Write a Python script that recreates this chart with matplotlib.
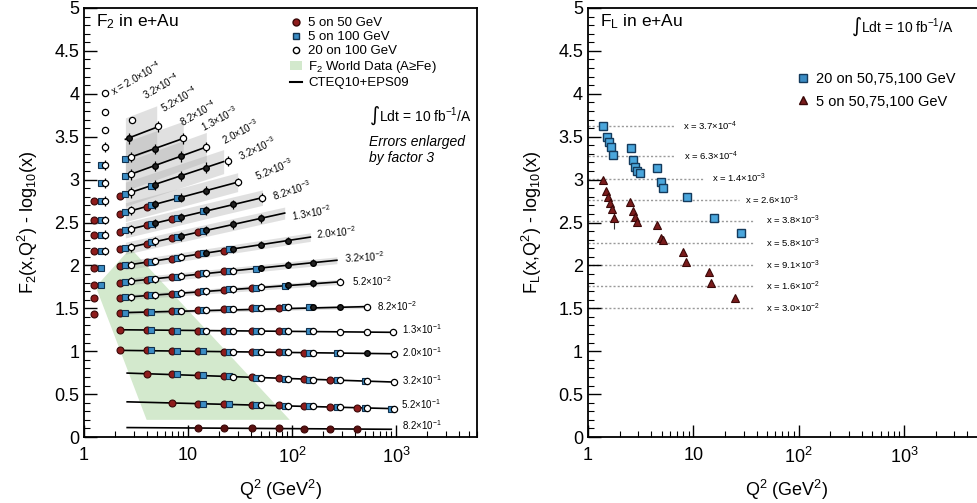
import numpy as np
import matplotlib
matplotlib.use('Agg')
import matplotlib.pyplot as plt
from matplotlib.lines import Line2D
from matplotlib.patches import Patch, Polygon
from matplotlib.ticker import (MultipleLocator, FixedLocator, FixedFormatter,
                               LogLocator, NullFormatter, FuncFormatter)

plt.rcParams['font.family'] = ['Liberation Sans', 'DejaVu Sans']
plt.rcParams['mathtext.default'] = 'regular'

RED = '#8e1c1c'
BLUE = '#3b8cc4'
GREEN = '#d3e9cd'

# ---- left panel: F2, one entry per x bin (top to bottom) ----
bin_labels = ['x = 2.0×10$^{-4}$', '3.2×10$^{-4}$', '5.2×10$^{-4}$', '8.2×10$^{-4}$',
              '1.3×10$^{-3}$', '2.0×10$^{-3}$', '3.2×10$^{-3}$', '5.2×10$^{-3}$',
              '8.2×10$^{-3}$', '1.3×10$^{-2}$', '2.0×10$^{-2}$', '3.2×10$^{-2}$',
              '5.2×10$^{-2}$', '8.2×10$^{-2}$', '1.3×10$^{-1}$', '2.0×10$^{-1}$',
              '3.2×10$^{-1}$', '5.2×10$^{-1}$', '8.2×10$^{-1}$']
label_q = [1.85, 3.7, 5.6, 8.4, 13.6, 21.5, 31, 44, 65, 100, 170, 320,
           380, 660, 1150, 1150, 1150, 1120, 1130]
label_y = [4.02, 3.97, 3.82, 3.66, 3.60, 3.45, 3.27, 3.04, 2.80, 2.57, 2.36, 2.08,
           1.82, 1.53, 1.26, 0.99, 0.66, 0.38, 0.14]
label_rot = [30, 30, 30, 30, 28, 28, 25, 22, 18, 10, 5, 3, 0, 0, 0, 0, 0, 0, 0]

# CTEQ10+EPS09 curves (Q2 start/end, value start/end)
curve_q = [None, None, None, (2.5, 5.0), (2.5, 9.0), (2.5, 15), (2.5, 22), (2.5, 30),
           (2.5, 52), (2.5, 85), (2.5, 150), (2.5, 270), (2.5, 300), (2.5, 540),
           (2.2, 930), (2.2, 980), (2.6, 980), (2.6, 980), (2.6, 900)]
curve_y = [None, None, None, (3.47, 3.61), (3.24, 3.48), (3.04, 3.38), (2.83, 3.21),
           (2.62, 2.97), (2.41, 2.79), (2.20, 2.61), (2.00, 2.33), (1.81, 2.06),
           (1.63, 1.81), (1.45, 1.52), (1.25, 1.22), (1.01, 0.97), (0.745, 0.64),
           (0.41, 0.33), (0.11, 0.09)]
band_half = [0, 0, 0, 0.25, 0.2, 0.17, 0.14, 0.11, 0.09, 0.07, 0.05, 0.04, 0.03,
             0.02, 0, 0, 0, 0, 0]
err_bin = [0.03, 0.03, 0.03, 0.06, 0.06, 0.06, 0.06, 0.05, 0.05, 0.05, 0.04, 0.04,
           0.04, 0.03, 0.01, 0.01, 0.01, 0.01, 0.01]

# 5 on 50 GeV
red_q = [[], [], [], [], [], [], [1.25, 2.2], [1.25, 2.2, 4.0], [1.25, 2.2, 4.0, 7.0],
         [1.25, 2.2, 4.0, 7.0, 12.5], [1.25, 2.2, 4.0, 7.0, 12.5, 22],
         [1.25, 2.2, 4.0, 7.0, 12.5, 22], [1.25, 2.2, 4.0, 7.0, 12.5, 22, 41],
         [1.25, 2.2, 4.0, 7.0, 12.5, 22, 41, 75], [2.2, 4.0, 7.0, 12.5, 22, 41, 75],
         [2.2, 4.0, 7.0, 12.5, 22, 41, 75, 130], [4.0, 7.0, 12.5, 22, 41, 75, 130, 230],
         [7.0, 12.5, 22, 41, 75, 130, 230, 420], [12.5, 22, 41, 75, 130, 230, 420]]
red_y = [[], [], [], [], [], [], [2.75, 2.81], [2.53, 2.60, 2.68], [2.36, 2.39, 2.47, 2.54],
         [2.17, 2.19, 2.25, 2.32, 2.39], [1.97, 1.99, 2.04, 2.08, 2.13, 2.17],
         [1.77, 1.80, 1.83, 1.87, 1.90, 1.93], [1.62, 1.62, 1.65, 1.67, 1.69, 1.71, 1.74],
         [1.43, 1.45, 1.46, 1.47, 1.48, 1.49, 1.50, 1.50],
         [1.25, 1.25, 1.24, 1.24, 1.24, 1.23, 1.23],
         [1.01, 1.01, 1.0, 1.0, 0.99, 0.99, 0.99, 0.98],
         [0.74, 0.73, 0.72, 0.71, 0.70, 0.69, 0.68, 0.67],
         [0.40, 0.39, 0.38, 0.37, 0.37, 0.36, 0.35, 0.34],
         [0.105, 0.10, 0.10, 0.10, 0.095, 0.095, 0.09]]

# 5 on 100 GeV
blue_q = [[], [], [], [], [1.45, 2.5], [1.45, 2.5], [1.45, 2.5, 4.4], [1.45, 2.5, 4.4, 7.8],
          [1.45, 2.5, 4.4, 7.8, 14], [1.45, 2.5, 4.4, 7.8, 14], [1.45, 2.5, 4.4, 7.8, 14, 25],
          [1.45, 2.5, 4.4, 7.8, 14, 25, 45], [2.5, 4.4, 7.8, 14, 25, 45, 85],
          [2.5, 4.4, 7.8, 14, 25, 45, 85, 145], [4.4, 7.8, 14, 25, 45, 85, 145],
          [4.4, 7.8, 14, 25, 45, 85, 145, 270], [7.8, 14, 25, 45, 85, 145, 270, 500],
          [14, 25, 45, 85, 145, 270, 500, 900], []]
blue_y = [[], [], [], [], [3.17, 3.24], [2.96, 3.04], [2.75, 2.83, 2.93],
          [2.53, 2.62, 2.70, 2.78], [2.36, 2.41, 2.48, 2.55, 2.63],
          [2.17, 2.20, 2.27, 2.33, 2.40], [1.97, 2.00, 2.04, 2.09, 2.14, 2.19],
          [1.77, 1.81, 1.84, 1.87, 1.91, 1.94, 1.96], [1.63, 1.65, 1.67, 1.70, 1.72, 1.74, 1.76],
          [1.45, 1.46, 1.47, 1.48, 1.49, 1.50, 1.51, 1.51],
          [1.25, 1.24, 1.24, 1.24, 1.23, 1.23, 1.23],
          [1.01, 1.0, 1.0, 0.99, 0.99, 0.99, 0.98, 0.98],
          [0.73, 0.72, 0.71, 0.69, 0.68, 0.67, 0.66, 0.65],
          [0.39, 0.38, 0.37, 0.36, 0.36, 0.35, 0.34, 0.33], []]

# 20 on 100 GeV (open markers)
open_q = [[1.6], [1.6], [1.6, 2.9], [1.6, 5.2], [1.6, 2.8, 9.0], [1.6, 2.8, 15],
          [1.6, 2.8, 24], [1.6, 2.8, 30], [1.6, 2.8, 52], [1.6, 2.8, 4.8], [2.8, 4.8, 8.5],
          [2.8, 4.8, 8.5, 15, 27], [2.8, 4.8, 8.5, 15, 27, 50, 290],
          [8.5, 15, 27, 50, 92, 530], [15, 27, 50, 92, 160, 290, 530, 930],
          [27, 50, 92, 160, 290, 950], [27, 50, 92, 160, 290, 530, 950],
          [50, 92, 160, 290, 530, 950], []]
open_y = [[4.01], [3.79], [3.58, 3.69], [3.38, 3.62], [3.17, 3.26, 3.48], [2.96, 3.06, 3.38],
          [2.75, 2.85, 3.22], [2.53, 2.64, 2.97], [2.36, 2.42, 2.79], [2.17, 2.21, 2.28],
          [2.01, 2.05, 2.10], [1.82, 1.84, 1.88, 1.91, 1.94],
          [1.63, 1.65, 1.68, 1.70, 1.72, 1.75, 1.81], [1.47, 1.48, 1.49, 1.50, 1.51, 1.52],
          [1.24, 1.24, 1.23, 1.23, 1.23, 1.22, 1.22, 1.22],
          [0.99, 0.99, 0.99, 0.98, 0.98, 0.97], [0.70, 0.69, 0.68, 0.67, 0.66, 0.65, 0.64],
          [0.37, 0.36, 0.36, 0.35, 0.34, 0.33], []]

# 20 on 100 GeV (points drawn dark, enlarged errors)
dark_q = [[], [], [], [2.7], [4.8], [4.8, 8.5], [4.8, 8.5, 15], [4.8, 8.5, 15],
          [4.8, 8.5, 15, 27], [8.5, 15, 27, 50], [15, 27, 50, 92], [50, 92, 160],
          [92, 160], [160, 290], [], [530], [], [], []]
dark_y = [[], [], [], [3.48], [3.36], [3.16, 3.27], [2.94, 3.04, 3.14], [2.71, 2.79, 2.87],
          [2.49, 2.56, 2.64, 2.71], [2.34, 2.41, 2.48, 2.55], [2.15, 2.19, 2.24, 2.29],
          [1.97, 2.01, 2.03], [1.77, 1.79], [1.51, 1.52], [], [0.975], [], [], []]

# F2 world data region (A >= Fe)
world_q = [1.3, 2.8, 95, 4.0]
world_y = [1.75, 2.2, 0.2, 0.2]

# ---- right panel: FL ----
fl_blue_q = [1.39, 1.51, 1.58, 1.65, 1.72, 2.54, 2.66, 2.78, 2.90, 3.09, 4.57, 4.88, 5.21,
             8.77, 15.8, 28.4]
fl_blue_y = [3.62, 3.50, 3.44, 3.38, 3.29, 3.37, 3.23, 3.15, 3.10, 3.08, 3.14, 2.97, 2.90,
             2.80, 2.55, 2.38]
fl_blue_err = [0.02, 0.02, 0.02, 0.03, 0.05, 0.02, 0.02, 0.03, 0.03, 0.05, 0.02, 0.03, 0.03,
               0.02, 0.02, 0.02]
fl_red_q = [1.39, 1.48, 1.54, 1.61, 1.68, 1.76, 2.49, 2.66, 2.78, 2.90, 4.57, 4.88, 5.21,
            8.03, 8.57, 14.1, 14.8, 24.9]
fl_red_y = [3.00, 2.87, 2.80, 2.73, 2.66, 2.55, 2.74, 2.63, 2.56, 2.51, 2.47, 2.32, 2.30,
            2.16, 2.04, 1.92, 1.79, 1.62]
fl_red_err = [0.02, 0.03, 0.03, 0.04, 0.05, 0.12, 0.02, 0.03, 0.04, 0.05, 0.02, 0.04, 0.04,
              0.02, 0.03, 0.03, 0.03, 0.02]
fl_labels = ['x = 3.7×10$^{-4}$', 'x = 6.3×10$^{-4}$', 'x = 1.4×10$^{-3}$',
             'x = 2.6×10$^{-3}$', 'x = 3.8×10$^{-3}$', 'x = 5.8×10$^{-3}$',
             'x = 9.1×10$^{-3}$', 'x = 1.6×10$^{-2}$', 'x = 3.0×10$^{-2}$']
fl_line_y = [3.62, 3.27, 3.01, 2.76, 2.52, 2.26, 2.00, 1.76, 1.50]
fl_line_end = [6.6, 6.6, 12.7, 27, 37, 37, 37, 37, 37]
fl_label_q = [7.9, 8.2, 15, 31, 49, 49, 49, 49, 49]


def style_axis(ax):
    ax.set_xscale('log')
    ax.set_xlim(1, 6000)
    ax.set_ylim(0, 5)
    ax.yaxis.set_major_locator(MultipleLocator(0.5))
    ax.yaxis.set_minor_locator(MultipleLocator(0.1))
    ax.yaxis.set_major_formatter(FuncFormatter(lambda v, p: '%g' % v))
    ax.xaxis.set_major_locator(FixedLocator([1, 10, 100, 1000]))
    ax.xaxis.set_major_formatter(FixedFormatter(['1', '10', '$10^2$', '$10^3$']))
    ax.xaxis.set_minor_locator(LogLocator(base=10, subs=np.arange(2, 10)))
    ax.xaxis.set_minor_formatter(NullFormatter())
    ax.tick_params(which='both', direction='in', top=False, right=False, labelsize=13)
    ax.tick_params(which='major', length=9, width=1)
    ax.tick_params(which='minor', length=4.5, width=0.8)
    ax.tick_params(axis='x', pad=7)
    for s in ax.spines.values():
        s.set_linewidth(1.3)
    ax.set_xlabel('Q$^2$ (GeV$^2$)', fontsize=13, labelpad=8)


fig = plt.figure(figsize=(9.78, 5.03), dpi=100)
ax1 = fig.add_axes([0.0859, 0.1312, 0.4018, 0.8529])
ax2 = fig.add_axes([0.6012, 0.1312, 0.407, 0.8529])
style_axis(ax1)
style_axis(ax2)

# left panel
ax1.add_patch(Polygon(list(zip(world_q, world_y)), closed=True, facecolor=GREEN,
                      edgecolor='none', zorder=0))
for b in range(len(bin_labels)):
    if curve_q[b] is not None:
        if band_half[b] > 0:
            ax1.fill_between(curve_q[b], [v - band_half[b] for v in curve_y[b]],
                             [v + band_half[b] for v in curve_y[b]],
                             color='#a8a8a8', alpha=0.35, lw=0, zorder=1)
        ax1.plot(curve_q[b], curve_y[b], color='k', lw=1.2, zorder=2)
    if red_q[b]:
        face = '#5a1010' if b == len(bin_labels) - 1 else RED
        ax1.plot(red_q[b], red_y[b], 'o', ms=5, mfc=face, mec='#3a0808', mew=0.8, zorder=4)
    if blue_q[b]:
        ax1.plot(blue_q[b], blue_y[b], 's', ms=4.8, mfc=BLUE, mec='#12324f', mew=0.8, zorder=5)
    if open_q[b]:
        ax1.errorbar(open_q[b], open_y[b], yerr=err_bin[b], fmt='o', ms=4.5, mfc='white',
                     mec='k', mew=0.9, ecolor='k', elinewidth=0.9, zorder=6)
    if dark_q[b]:
        ax1.errorbar(dark_q[b], dark_y[b], yerr=err_bin[b], fmt='o', ms=4, mfc='#222222',
                     mec='k', ecolor='k', elinewidth=0.9, zorder=6)
    ax1.text(label_q[b], label_y[b], bin_labels[b], fontsize=7, rotation=label_rot[b],
             rotation_mode='anchor', ha='left', va='center', zorder=7)

ax1.text(0.03, 0.968, 'F$_2$ in e+Au', transform=ax1.transAxes, fontsize=12.5,
         ha='left', va='center')
ax1.text(0.725, 0.748, '∫Ldt = 10 fb$^{-1}$/A', transform=ax1.transAxes, fontsize=10,
         ha='left', va='center')
ax1.text(0.725, 0.688, 'Errors enlarged', transform=ax1.transAxes, fontsize=10,
         style='italic', ha='left', va='center')
ax1.text(0.725, 0.650, 'by factor 3', transform=ax1.transAxes, fontsize=10,
         style='italic', ha='left', va='center')
handles = [
    Line2D([], [], marker='o', ls='none', ms=5, mfc=RED, mec='#3a0808'),
    Line2D([], [], marker='s', ls='none', ms=4.8, mfc=BLUE, mec='#12324f'),
    Line2D([], [], marker='o', ls='none', ms=4.5, mfc='white', mec='k'),
    Patch(facecolor=GREEN, edgecolor='none'),
    Line2D([], [], color='k', lw=1.5),
]
names = ['5 on 50 GeV', '5 on 100 GeV', '20 on 100 GeV', 'F$_2$ World Data (A≥Fe)',
         'CTEQ10+EPS09']
ax1.legend(handles, names, loc='upper left', bbox_to_anchor=(0.5, 1.0), frameon=False,
           fontsize=9.5, handlelength=0.9, handletextpad=0.5, labelspacing=0.15,
           borderpad=0.2, handleheight=0.6)
ax1.set_ylabel('F$_2$(x,Q$^2$) - log$_{10}$(x)', fontsize=13, labelpad=10)

# right panel
for yv, qe, lq, lab in zip(fl_line_y, fl_line_end, fl_label_q, fl_labels):
    ax2.plot([1, qe], [yv, yv], ls=(0, (1.5, 1.5)), color='#9a9a9a', lw=1, zorder=1)
    ax2.text(lq, yv, lab, fontsize=6.8, ha='left', va='center')
ax2.errorbar(fl_blue_q, fl_blue_y, yerr=fl_blue_err, fmt='s', ms=5.5, mfc='#4aa6dc',
             mec='#143a5c', mew=1, ecolor='#333333', elinewidth=0.8, zorder=4)
ax2.errorbar(fl_red_q, fl_red_y, yerr=fl_red_err, fmt='^', ms=6, mfc='#7a1c1c',
             mec='#3a0808', mew=0.8, ecolor='#333333', elinewidth=0.8, zorder=5)
ax2.text(0.03, 0.968, 'F$_L$ in e+Au', transform=ax2.transAxes, fontsize=12.5,
         ha='left', va='center')
ax2.text(0.66, 0.955, '∫Ldt = 10 fb$^{-1}$/A', transform=ax2.transAxes, fontsize=10,
         ha='left', va='center')
handles2 = [
    Line2D([], [], marker='s', ls='none', ms=5.5, mfc='#3b8cc4', mec='#143a5c'),
    Line2D([], [], marker='^', ls='none', ms=6, mfc='#7a1c1c', mec='#3a0808'),
]
ax2.legend(handles2, ['20 on 50,75,100 GeV', '5 on 50,75,100 GeV'], loc='upper left',
           bbox_to_anchor=(0.5, 0.875), frameon=False, fontsize=10.5, handlelength=0.8,
           handletextpad=0.5, labelspacing=0.6, borderpad=0.2)
ax2.set_ylabel('F$_L$(x,Q$^2$) - log$_{10}$(x)', fontsize=13, labelpad=10)

fig.savefig('out.png', dpi=100)
